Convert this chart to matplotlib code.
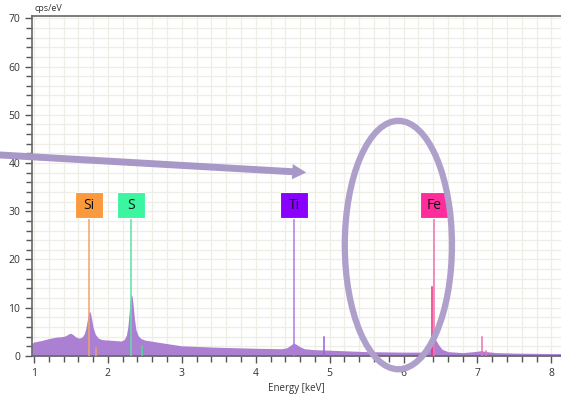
import matplotlib
matplotlib.use('Agg')
import matplotlib.pyplot as plt
from matplotlib.patches import Ellipse, Rectangle
from matplotlib.ticker import MultipleLocator

# spectrum (keV, cps/eV)
energy = [0.97, 1.0, 1.1, 1.2, 1.3, 1.38, 1.43, 1.47, 1.5, 1.53, 1.57, 1.61, 1.65, 1.68,
          1.70, 1.72, 1.735, 1.75, 1.765, 1.78, 1.80, 1.83, 1.87, 1.92, 2.0, 2.1, 2.18,
          2.22, 2.25, 2.27, 2.285, 2.30, 2.315, 2.33, 2.345, 2.36, 2.38, 2.41, 2.45,
          2.5, 2.7, 3.0, 3.5, 4.0, 4.35, 4.42, 4.47, 4.51, 4.55, 4.6, 4.66, 4.8, 5.0, 5.5,
          6.0, 6.28, 6.33, 6.37, 6.40, 6.43, 6.47, 6.52, 6.6, 6.8, 6.95, 7.05, 7.12, 7.25,
          7.5, 8.0, 8.13]
counts = [2.6, 2.9, 3.2, 3.6, 3.9, 4.0, 4.2, 4.6, 4.7, 4.4, 3.9, 3.7, 3.9, 4.6,
          5.6, 7.3, 8.7, 9.3, 8.9, 7.6, 5.9, 4.5, 3.7, 3.4, 3.3, 3.2, 3.1,
          3.4, 4.3, 6.0, 8.5, 11.3, 12.8, 12.2, 10.0, 7.6, 5.4, 4.2, 3.6,
          3.3, 2.8, 2.1, 1.8, 1.6, 1.5, 1.7, 2.2, 2.7, 2.4, 1.9, 1.5, 1.3, 1.2, 0.9,
          0.8, 0.8, 1.3, 2.6, 3.9, 3.5, 2.4, 1.4, 0.9, 0.7, 0.9, 1.1, 0.9, 0.7,
          0.6, 0.5, 0.5]

# element markers
elements = ['Si', 'S', 'Ti', 'Fe']
element_kev = [1.74, 2.31, 4.52, 6.41]
element_colors = ['#fa9a3c', '#3cf5a0', '#8a00ff', '#ff2d9b']
line_colors = ['#f0a468', '#5ee0a8', '#b07ae8', '#f070b0']

# small lines
minor_kev = [1.84, 2.46, 4.93, 6.39, 7.06, 7.11]
minor_height = [1.6, 2.0, 3.9, 14.3, 3.9, 1.0]
minor_colors = ['#f0a060', '#40e090', '#9a60e0', '#e8307f', '#f070b0', '#f070b0']

fig = plt.figure(figsize=(5.61, 3.94), dpi=100)
ax = fig.add_axes([0.057, 0.0965, 0.943, 0.862])

ax.fill_between(energy, counts, 0, color='#ab80d2', lw=0, zorder=2)

for kev, h, c in zip(minor_kev, minor_height, minor_colors):
    ax.plot([kev, kev], [0, h], color=c, lw=1.1, zorder=3)

box_w = 0.375
box_bottom = 28.5
box_h = 5.4
for name, kev, fc, lc in zip(elements, element_kev, element_colors, line_colors):
    ax.plot([kev, kev], [0, box_bottom], color=lc, lw=1.1, zorder=3)
    ax.add_patch(Rectangle((kev - box_w / 2, box_bottom), box_w, box_h, facecolor=fc,
                           edgecolor='white', lw=0.8, zorder=4))
    ax.text(kev, box_bottom + box_h / 2, name, ha='center', va='center', fontsize=10,
            family='Open Sans', color='#111111', zorder=5)

# annotation arrow and ellipse
ax.annotate('', xy=(4.72, 38.0), xytext=(0.5, 41.7), xycoords='data',
            arrowprops=dict(arrowstyle='simple,head_length=1.0,head_width=1.1,tail_width=0.5',
                            color='#a898c8', lw=0), annotation_clip=False, zorder=6)
ax.add_patch(Ellipse((5.93, 23.0), 1.45, 51.5, fill=False, edgecolor='#ae9fcb', lw=4.5,
                     clip_on=False, zorder=6))

ax.set_xlim(0.973, 8.13)
ax.set_ylim(0, 70.4)
ax.xaxis.set_major_locator(MultipleLocator(1))
ax.xaxis.set_minor_locator(MultipleLocator(0.2))
ax.yaxis.set_major_locator(MultipleLocator(10))
ax.yaxis.set_minor_locator(MultipleLocator(2))
ax.grid(which='both', color='#eeede6', lw=0.9, zorder=0)
ax.set_axisbelow(True)
ax.tick_params(which='both', direction='out', colors='#555555', labelcolor='#333333',
               labelsize=7.5, width=1)
ax.tick_params(which='major', length=5)
ax.tick_params(which='minor', length=4)
for lab in ax.get_xticklabels() + ax.get_yticklabels():
    lab.set_family('Open Sans')
for side in ['left', 'top', 'bottom']:
    ax.spines[side].set_color('#666666')
    ax.spines[side].set_linewidth(1.2)
ax.spines['right'].set_visible(False)

ax.set_xlabel('Energy [keV]', fontsize=7, family='Open Sans', color='#333333', labelpad=3)
fig.text(0.062, 0.968, 'cps/eV', fontsize=6.5, family='Open Sans', color='#333333',
         ha='left', va='bottom')

fig.savefig('out.png', dpi=100)
